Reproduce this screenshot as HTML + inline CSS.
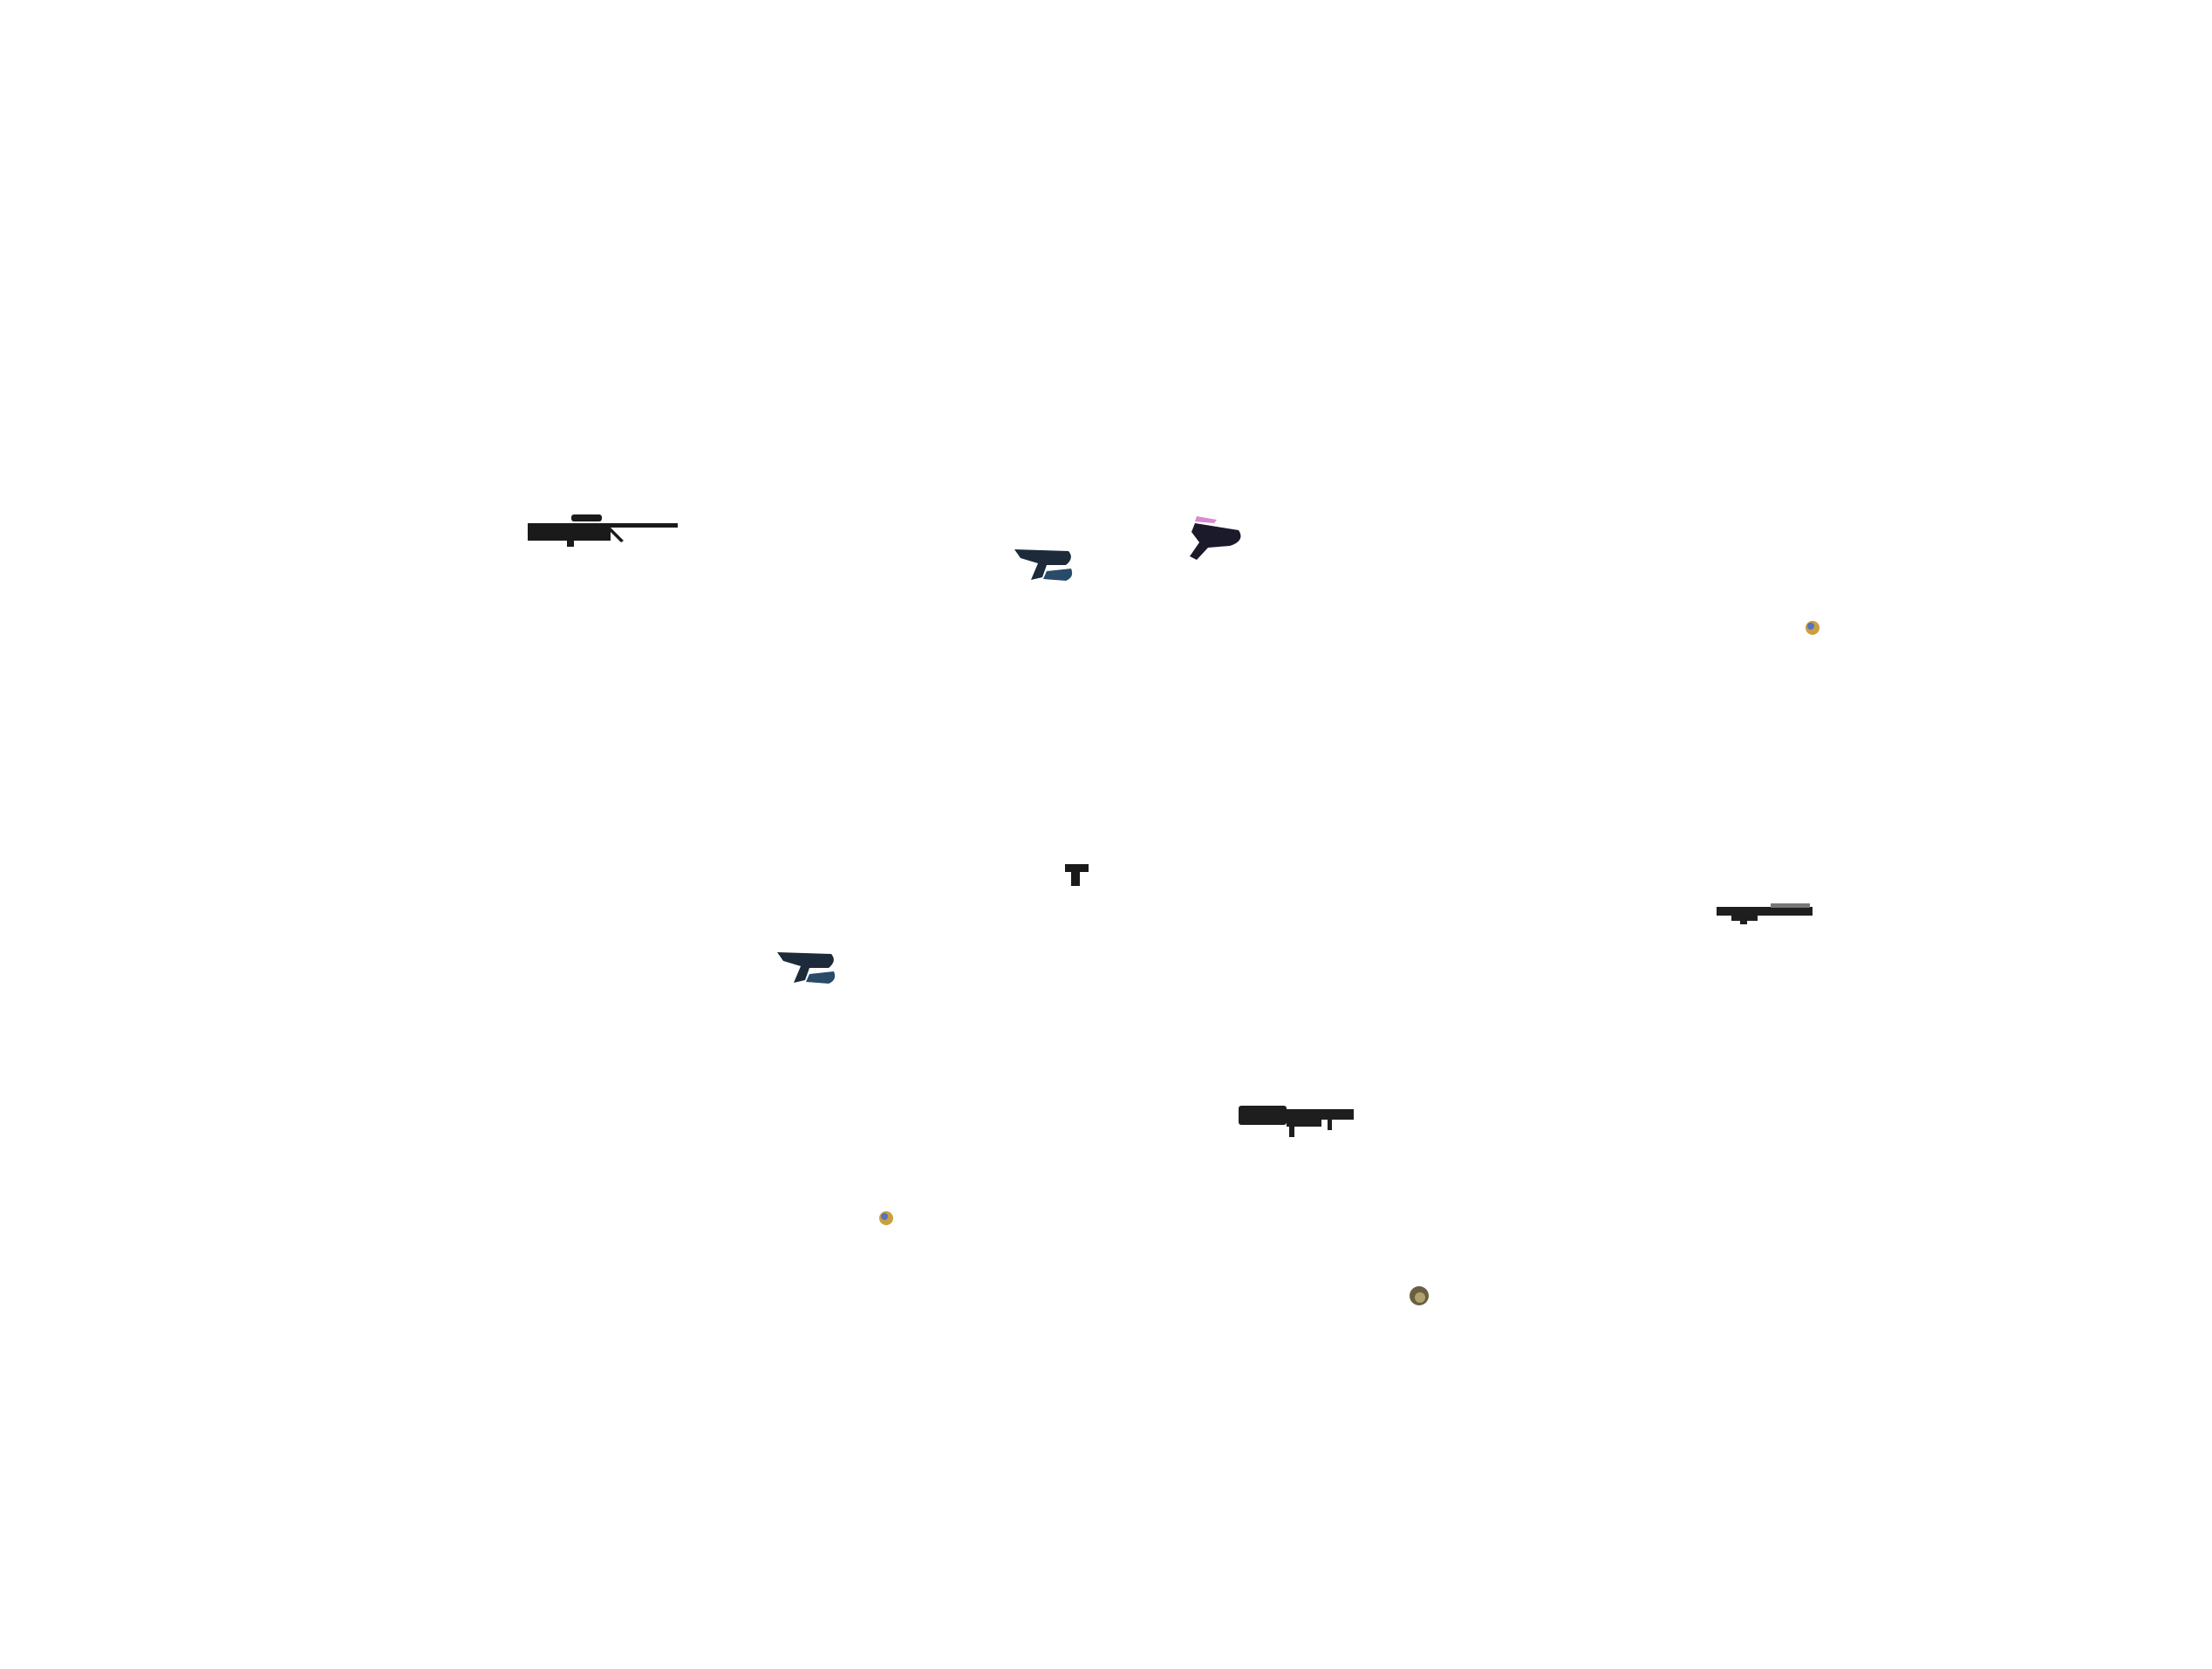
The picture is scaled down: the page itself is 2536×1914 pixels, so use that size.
<!DOCTYPE html>
<html><head><meta charset="utf-8"><style>html,body{margin:0;padding:0;background:#fff}svg{display:block}</style></head>
<body>
<svg width="2536" height="1914" viewBox="0 0 2536 1914" xmlns="http://www.w3.org/2000/svg">
<rect width="2536" height="1914" fill="#fff"/>
<!-- sniper -->
<g fill="#1a1a1a">
<rect x="605" y="600" width="95" height="20"/>
<rect x="655" y="590" width="35" height="8" rx="3"/>
<rect x="695" y="600" width="82" height="5"/>
<rect x="650" y="615" width="8" height="12"/>
<path d="M700 605 L715 620 L712 622 L698 608Z"/>
</g>
<!-- plasma pistol 1 -->
<g fill="#1c2a3a">
<path d="M1163 630 L1225 632 Q1232 640 1222 648 L1200 648 L1195 662 L1182 665 L1190 646 L1170 640Z"/>
<path d="M1200 655 L1228 652 Q1232 662 1222 666 L1196 664Z" fill="#2a4a6a"/>
</g>
<!-- needler -->
<g fill="#1a1a2a">
<path d="M1370 600 L1420 608 Q1428 620 1410 626 L1385 628 L1372 642 L1364 638 L1375 622 L1366 610Z"/>
<path d="M1372 592 L1395 596 L1392 600 L1370 598Z" fill="#d88bd0"/>
</g>
<!-- orb 1 -->
<circle cx="2078" cy="720" r="8" fill="#c8a040"/><circle cx="2076" cy="718" r="4" fill="#5a70c0"/>
<!-- pistol -->
<g fill="#1a1a1a"><rect x="1221" y="991" width="27" height="9"/><rect x="1228" y="998" width="10" height="18"/></g>
<!-- shotgun -->
<g fill="#1e1e1e"><rect x="1968" y="1040" width="110" height="10"/><rect x="1985" y="1048" width="30" height="8"/><rect x="1995" y="1052" width="8" height="8"/><rect x="2030" y="1036" width="45" height="5" fill="#777"/></g>
<!-- plasma pistol 2 -->
<g fill="#1c2a3a">
<path d="M891 1092 L953 1094 Q960 1102 950 1110 L928 1110 L923 1124 L910 1127 L918 1108 L898 1102Z"/>
<path d="M928 1117 L956 1114 Q960 1124 950 1128 L924 1126Z" fill="#2a4a6a"/>
</g>
<!-- rocket -->
<g fill="#1e1e1e"><rect x="1420" y="1272" width="132" height="12"/><rect x="1420" y="1268" width="55" height="22" rx="3"/><rect x="1475" y="1284" width="40" height="8"/><rect x="1478" y="1290" width="6" height="14"/><rect x="1522" y="1284" width="5" height="12"/></g>
<!-- orb 2 -->
<circle cx="1016" cy="1397" r="8" fill="#c8a040"/><circle cx="1014" cy="1395" r="4" fill="#5a70c0"/>
<!-- grenade -->
<circle cx="1627" cy="1486" r="11" fill="#6a6040"/><circle cx="1628" cy="1488" r="6" fill="#b0a070"/>
</svg>
</body></html>
